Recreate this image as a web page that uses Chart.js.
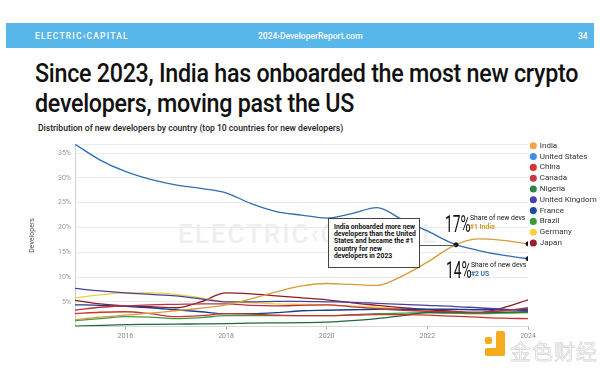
<!DOCTYPE html>
<html>
<head>
<meta charset="utf-8">
<script src="https://cdn.jsdelivr.net/npm/chart.js@4"></script>
<style>
  body { margin: 0; width: 600px; height: 368px; background: #fff; position: relative; overflow: hidden; font-family: Roboto, "Liberation Sans", sans-serif; }
  .bar { position: absolute; left: 6px; top: 23px; width: 588px; height: 25px; background: #57b6ea; color: #fff; font-size: 8.5px; font-weight: 500; }
  .bar span { position: absolute; top: 7.5px; white-space: nowrap; }
  .title { position: absolute; left: 35px; top: 59px; font-size: 25px; line-height: 30px; font-weight: 500; letter-spacing: -0.3px; color: #111; white-space: nowrap; transform-origin: 0 0; }
  .sub { position: absolute; left: 38px; top: 123px; font-size: 8.6px; font-weight: 500; color: #222; white-space: nowrap; }
  .wm { position: absolute; left: 178px; top: 219px; font-size: 26px; letter-spacing: 2px; color: #efefef; font-weight: 500; white-space: nowrap; }
  #wrap { position: absolute; left: 28px; top: 136px; width: 572px; height: 206px; }
  .box { position: absolute; left: 328px; top: 218px; width: 85px; height: 43px; border: 1px solid #444; background: #fff; padding: 5px 0 0 5px; font-size: 6.8px; line-height: 7.2px; font-weight: 700; color: #111; white-space: nowrap; }
  .big { position: absolute; font-size: 23px; font-weight: 400; color: #111; transform: scaleX(0.6); transform-origin: 0 0; }
  .note { position: absolute; font-size: 6.8px; line-height: 9px; color: #111; white-space: nowrap; }
  .note b { font-weight: 700; }
  .logo { position: absolute; background: #f4ac1c; }
  .cn { position: absolute; left: 510px; top: 335px; font-size: 21px; color: #fff; -webkit-text-stroke: 0.8px #d8d8d8; font-family: "Noto Sans CJK SC", sans-serif; letter-spacing: 1px; }
</style>
</head>
<body>
<div class="bar">
  <span style="left:29px; letter-spacing:1.2px">ELECTRIC‹CAPITAL</span>
  <span style="left:252px">2024›DeveloperReport.com</span>
  <span style="left:572px">34</span>
</div>
<div class="title" id="title">Since 2023, India has onboarded the most new crypto<br>developers, moving past the US</div>
<div class="sub">Distribution of new developers by country (top 10 countries for new developers)</div>
<div class="wm">ELECTRIC‹CAPITAL</div>
<div id="wrap"><canvas id="devchart"></canvas></div>
<div class="box" id="box">India onboarded more new<br>developers than the United<br>States and became the #1<br>country for new<br>developers in 2023</div>
<div class="big" style="left:445px; top:211px">17%</div>
<div class="note" style="left:470px; top:214px">Share of new devs<br><b style="color:#d9962e">#1 India</b></div>
<div class="big" style="left:446px; top:257px">14%</div>
<div class="note" style="left:471px; top:261px">Share of new devs<br><b style="color:#2f6db5">#2 US</b></div>
<div class="logo" style="left:485px; top:337px; width:7px; height:7px; border-radius:2px"></div>
<div class="logo" style="left:496px; top:331px; width:9px; height:25px; border-radius:2px"></div>
<div class="logo" style="left:485px; top:348px; width:20px; height:8px; border-radius:2px"></div>
<div class="cn">金色财经</div>

<script>
const years = [2015, 2015.5, 2016, 2016.5, 2017, 2017.5, 2018, 2018.5, 2019, 2019.5, 2020, 2020.5, 2021, 2021.5, 2022, 2022.5, 2023, 2023.5, 2024];

const india   = [1.4, 1.9, 2.3, 2.7, 3.2, 3.7, 4.4, 5.6, 7.0, 8.2, 8.7, 8.5, 8.3, 10.2, 13.0, 16.2, 17.7, 17.4, 16.7];
const us      = [36.8, 33.6, 31.3, 29.7, 28.6, 27.9, 27.0, 24.8, 23.2, 22.5, 21.9, 22.8, 24.0, 21.6, 19.3, 16.8, 15.4, 14.4, 13.7];
const china   = [2.6, 2.9, 3.0, 2.6, 2.0, 2.2, 2.6, 2.5, 2.3, 2.2, 2.2, 2.3, 2.4, 2.4, 2.3, 2.1, 1.9, 1.7, 1.6];
const canada  = [3.3, 3.9, 4.2, 4.4, 4.5, 4.6, 4.6, 4.3, 4.2, 4.3, 4.4, 4.0, 3.6, 3.3, 3.1, 3.0, 2.9, 3.2, 3.8];
const nigeria = [0.1, 0.25, 0.4, 0.45, 0.5, 0.55, 0.6, 0.7, 0.75, 0.8, 0.9, 1.2, 1.6, 2.2, 2.8, 2.8, 2.8, 2.9, 3.0];
const uk      = [7.7, 7.2, 6.8, 6.5, 6.2, 5.6, 5.0, 5.0, 5.1, 5.1, 5.0, 4.9, 4.7, 4.5, 4.3, 4.1, 3.8, 3.5, 3.2];
const france  = [4.4, 4.3, 4.1, 3.8, 3.4, 3.0, 2.6, 2.6, 2.8, 3.2, 3.3, 3.4, 3.5, 3.5, 3.5, 3.5, 3.4, 3.4, 3.5];
const brazil  = [1.2, 1.6, 2.0, 1.9, 1.6, 1.8, 2.2, 2.2, 2.2, 2.2, 2.2, 2.4, 2.6, 2.7, 2.8, 2.7, 2.6, 2.7, 2.8];
const germany = [5.8, 6.4, 6.8, 6.8, 6.5, 5.8, 5.0, 4.8, 4.6, 4.5, 4.4, 4.2, 3.9, 3.5, 3.1, 2.8, 2.6, 2.7, 2.9];
const japan   = [5.3, 4.6, 4.2, 4.0, 3.8, 5.0, 6.8, 6.6, 6.2, 5.8, 5.4, 4.8, 4.3, 3.8, 3.4, 3.1, 2.8, 3.8, 5.4];

const countries = ['India', 'United States', 'China', 'Canada', 'Nigeria', 'United Kingdom', 'France', 'Brazil', 'Germany', 'Japan'];
const series = [india, us, china, canada, nigeria, uk, france, brazil, germany, japan];
const lineColors = ['#d99a3e', '#2f6db5', '#c8352b', '#b83246', '#1f6a3a', '#4a3f9a', '#1c3d86', '#3f9a45', '#ecd040', '#8e1a26'];
const dotColors = ['#f0a445', '#3f8fe8', '#d8362b', '#c7384c', '#2e8448', '#4840b0', '#1e4a9e', '#3c9a3c', '#f3d23e', '#a01c2a'];

// black dots: crossing point, India 2024, US 2024
const markerX = [2022.57, 2024, 2024];
const markerY = [16.5, 16.7, 13.7];

const yTicks = [0, 5, 10, 15, 20, 25, 30, 35, 36.8];
const xTicks = [2016, 2018, 2020, 2022, 2024];

// squeeze the title so the first line fits the slide width
const title = document.getElementById('title');
title.style.transform = 'scaleX(' + Math.min(1, 543 / title.offsetWidth) + ')';

const datasets = countries.map((name, i) => ({
    label: name,
    data: years.map((x, j) => ({ x: x, y: series[i][j] })),
    borderColor: lineColors[i],
    backgroundColor: dotColors[i],
    borderWidth: 1.3,
    pointRadius: 0,
    cubicInterpolationMode: 'monotone'
}));

datasets.push({
    type: 'scatter',
    label: 'markers',
    data: markerX.map((x, j) => ({ x: x, y: markerY[j] })),
    backgroundColor: '#111',
    borderColor: '#111',
    pointRadius: 2,
    order: -1
});

// connector from annotation box to the crossing dot
const connector = {
    id: 'connector',
    afterDatasetsDraw(chart) {
        const pt = chart.getDatasetMeta(chart.data.datasets.length - 1).data[0];
        const box = document.getElementById('box');
        const wrap = document.getElementById('wrap');
        const boxRight = box.offsetLeft + box.offsetWidth - wrap.offsetLeft;
        const c = chart.ctx;
        c.save();
        c.strokeStyle = '#555';
        c.lineWidth = 1;
        c.beginPath();
        c.moveTo(boxRight, Math.round(pt.y) + 0.5);
        c.lineTo(pt.x, Math.round(pt.y) + 0.5);
        c.stroke();
        c.restore();
    }
};

const ctx = document.getElementById('devchart').getContext('2d');

const devChart = new Chart(ctx, {
    type: 'line',
    data: { datasets: datasets },
    options: {
        responsive: true,
        maintainAspectRatio: false,
        animation: false,
        layout: { padding: { top: 3, bottom: 0 } },
        plugins: {
            tooltip: { enabled: false },
            legend: {
                position: 'right',
                align: 'start',
                maxWidth: 72,
                labels: {
                    usePointStyle: true,
                    pointStyle: 'circle',
                    boxWidth: 5,
                    boxHeight: 5,
                    padding: 2.8,
                    color: '#333',
                    font: { size: 8, family: 'Roboto' },
                    filter: item => item.text !== 'markers',
                    generateLabels: chart => Chart.defaults.plugins.legend.labels.generateLabels(chart).map(l => {
                        l.strokeStyle = dotColors[l.datasetIndex] || '#111';
                        l.lineWidth = 0;
                        return l;
                    })
                }
            }
        },
        scales: {
            x: {
                type: 'linear',
                min: 2015,
                max: 2024,
                afterBuildTicks: s => { s.ticks = xTicks.map(v => ({ value: v })); },
                ticks: {
                    callback: v => String(v),
                    color: '#888',
                    padding: 2,
                    maxRotation: 0,
                    font: { size: 7, family: 'Roboto' }
                },
                grid: { drawOnChartArea: false, tickLength: 3, color: '#aaa' },
                border: { color: '#d8d8d8' }
            },
            y: {
                min: 0,
                max: 36.8,
                afterBuildTicks: s => { s.ticks = yTicks.map(v => ({ value: v })); },
                afterFit: s => { s.width = 47; },
                ticks: {
                    callback: v => (v > 0 && v % 5 === 0) ? v + '%' : '',
                    color: '#999',
                    padding: 4,
                    font: { size: 7, family: 'Roboto' }
                },
                grid: { color: '#ebebeb', drawTicks: false },
                border: { color: '#d0d0d0' },
                title: {
                    display: true,
                    text: 'Developers',
                    color: '#555',
                    padding: { top: 0, bottom: 6 },
                    font: { size: 7, family: 'Roboto' }
                }
            }
        }
    },
    plugins: [connector]
});
</script>
</body>
</html>
